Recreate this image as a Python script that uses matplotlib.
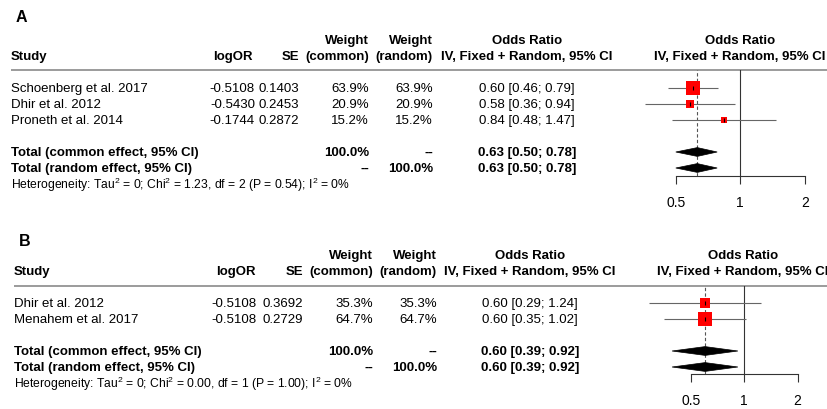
import matplotlib
matplotlib.use("Agg")
import matplotlib.pyplot as plt
import numpy as np
from matplotlib.patches import Polygon
from matplotlib.ticker import NullLocator, FixedLocator, FixedFormatter

plt.rcParams["font.family"] = ["Liberation Sans", "DejaVu Sans"]
plt.rcParams["mathtext.fontset"] = "custom"
plt.rcParams["mathtext.rm"] = "Liberation Sans"

W, H = 827, 410

# ---- panel A data ----
studies_a = ["Schoenberg et al. 2017", "Dhir et al. 2012", "Proneth et al. 2014"]
logor_a = [-0.5108, -0.5430, -0.1744]
se_a = [0.1403, 0.2453, 0.2872]
wcommon_a = [63.9, 20.9, 15.2]
wrandom_a = [63.9, 20.9, 15.2]
or_a = [0.60, 0.58, 0.84]
lo_a = [0.46, 0.36, 0.48]
hi_a = [0.79, 0.94, 1.47]
pooled_a = [0.63, 0.50, 0.78]   # est, lower, upper (common == random)
het_a = ("Heterogeneity: Tau$^\\mathregular{2}$ = 0; Chi$^\\mathregular{2}$ = 1.23, "
         "df = 2 (P = 0.54); I$^\\mathregular{2}$ = 0%")

# ---- panel B data ----
studies_b = ["Dhir et al. 2012", "Menahem et al. 2017"]
logor_b = [-0.5108, -0.5108]
se_b = [0.3692, 0.2729]
wcommon_b = [35.3, 64.7]
wrandom_b = [35.3, 64.7]
or_b = [0.60, 0.60]
lo_b = [0.29, 0.35]
hi_b = [1.24, 1.02]
pooled_b = [0.60, 0.39, 0.92]
het_b = ("Heterogeneity: Tau$^\\mathregular{2}$ = 0; Chi$^\\mathregular{2}$ = 0.00, "
         "df = 1 (P = 1.00); I$^\\mathregular{2}$ = 0%")

axis_ticks = [0.5, 1, 2]

FS = 9.5
FS_SMALL = 8.7


def draw_panel(fig, bg, label, label_y, studies, logor, se, wc, wr, est, lo, hi, pooled, het,
               x0, cols, row1, rule_y, axis_y, or1_px, px_per_log2):
    """Draw one forest plot panel; pixel layout given by cols / row1 / rule_y."""
    step = 16.0
    row_px = lambda r: row1 + step * (r - 1)
    n = len(studies)
    r_common = n + 2
    r_random = n + 3
    r_het = n + 4

    bg.text(x0 + 5, label_y, label, fontsize=11.5, fontweight="bold", va="center")

    # column headers
    hy1, hy2 = row_px(-2), row_px(-1)
    bold = dict(fontsize=FS, fontweight="bold", va="center")
    bg.text(x0, hy2, "Study", **bold)
    bg.text(cols["logor_h"], hy2, "logOR", ha="right", **bold)
    bg.text(cols["se"], hy2, "SE", ha="right", **bold)
    bg.text(cols["wc"], hy1, "Weight", ha="right", **bold)
    bg.text(cols["wc"], hy2, "(common)", ha="right", **bold)
    bg.text(cols["wr"], hy1, "Weight", ha="right", **bold)
    bg.text(cols["wr"], hy2, "(random)", ha="right", **bold)
    for cx in (cols["or"], cols["plot"]):
        bg.text(cx, hy1, "Odds Ratio", ha="center", **bold)
        bg.text(cx, hy2, "IV, Fixed + Random, 95% CI", ha="center", **bold)
    bg.plot([x0, W], [rule_y, rule_y], color="#808080", lw=1.1, solid_capstyle="butt")

    # study rows
    for i in range(n):
        y = row_px(i + 1)
        bg.text(x0, y, studies[i], fontsize=FS, va="center")
        bg.text(cols["logor"], y, f"{logor[i]:.4f}", fontsize=FS, va="center", ha="right")
        bg.text(cols["se"], y, f"{se[i]:.4f}", fontsize=FS, va="center", ha="right")
        bg.text(cols["wc"], y, f"{wc[i]:.1f}%", fontsize=FS, va="center", ha="right")
        bg.text(cols["wr"], y, f"{wr[i]:.1f}%", fontsize=FS, va="center", ha="right")
        bg.text(cols["or"], y, f"{est[i]:.2f} [{lo[i]:.2f}; {hi[i]:.2f}]", fontsize=FS,
                va="center", ha="center")

    # pooled rows
    ci_txt = f"{pooled[0]:.2f} [{pooled[1]:.2f}; {pooled[2]:.2f}]"
    yc, yr = row_px(r_common), row_px(r_random)
    bg.text(x0, yc, "Total (common effect, 95% CI)", **bold)
    bg.text(x0, yr, "Total (random effect, 95% CI)", **bold)
    bg.text(cols["wc"], yc, "100.0%", ha="right", **bold)
    bg.text(cols["wr"], yc, "--", ha="right", **bold)
    bg.text(cols["wc"], yr, "--", ha="right", **bold)
    bg.text(cols["wr"], yr, "100.0%", ha="right", **bold)
    bg.text(cols["or"], yc, ci_txt, ha="center", **bold)
    bg.text(cols["or"], yr, ci_txt, ha="center", **bold)
    bg.text(x0, row_px(r_het), het, fontsize=FS_SMALL, va="center")

    # forest axes: log-x, rows on y
    left_px, right_px = 600.0, float(W)
    ax = fig.add_axes([left_px / W, 1 - axis_y / H, (right_px - left_px) / W, (axis_y - rule_y) / H])
    ax.set_xscale("log")
    ax.set_xlim(2 ** ((left_px - or1_px) / px_per_log2), 2 ** ((right_px - or1_px) / px_per_log2))
    r_top = 1 + (rule_y - row1) / step
    r_bot = 1 + (axis_y - row1) / step
    ax.set_ylim(r_bot, r_top)
    ax.patch.set_alpha(0)

    ax.axvline(1, color="#333333", lw=0.8, zorder=1)
    ax.axvline(pooled[0], color="#555555", lw=0.8, ls=(0, (3, 2)), zorder=1)

    rows = np.arange(1, n + 1)
    ax.hlines(rows, lo, hi, color="#666666", lw=0.8, zorder=2)
    sides_pt = 1.75 * np.sqrt(np.array(wc)) * 72 / 100
    ax.scatter(est, rows, s=sides_pt ** 2, marker="s", color="#ff0000", edgecolors="none", zorder=3)
    ax.scatter(est, rows, s=(4 * 0.72) ** 2, marker="|", color="black", linewidths=0.8, zorder=4)

    h = 4.4 / step
    for r in (r_common, r_random):
        ax.add_patch(Polygon([[pooled[1], r], [pooled[0], r - h], [pooled[2], r], [pooled[0], r + h]],
                             closed=True, facecolor="black", edgecolor="black", lw=0.5, zorder=3))

    for s in ("top", "left", "right"):
        ax.spines[s].set_visible(False)
    ax.spines["bottom"].set_bounds(axis_ticks[0], axis_ticks[-1])
    ax.spines["bottom"].set_color("#333333")
    ax.spines["bottom"].set_linewidth(0.8)
    ax.set_yticks([])
    ax.xaxis.set_major_locator(FixedLocator(axis_ticks))
    ax.xaxis.set_major_formatter(FixedFormatter([f"{t:g}" for t in axis_ticks]))
    ax.xaxis.set_minor_locator(NullLocator())
    ax.tick_params(axis="x", direction="out", length=6, width=0.8, color="#333333",
                   labelsize=10, pad=8)


fig = plt.figure(figsize=(W / 100, H / 100), dpi=100)
bg = fig.add_axes([0, 0, 1, 1])
bg.set_xlim(0, W)
bg.set_ylim(H, 0)
bg.axis("off")

cols_a = {"logor_h": 253, "logor": 255, "se": 299, "wc": 369, "wr": 433, "or": 527, "plot": 740}
draw_panel(fig, bg, "A", 17.7, studies_a, logor_a, se_a, wcommon_a, wrandom_a, or_a, lo_a, hi_a,
           pooled_a, het_a, x0=11, cols=cols_a, row1=89, rule_y=71, axis_y=176.7,
           or1_px=740.3, px_per_log2=64.5)

cols_b = {"logor_h": 256, "logor": 256, "se": 303, "wc": 373, "wr": 437, "or": 530, "plot": 743}
draw_panel(fig, bg, "B", 242, studies_b, logor_b, se_b, wcommon_b, wrandom_b, or_b, lo_b, hi_b,
           pooled_b, het_b, x0=14, cols=cols_b, row1=304, rule_y=287, axis_y=375,
           or1_px=744.3, px_per_log2=53.2)

fig.savefig("out.png", dpi=100)
